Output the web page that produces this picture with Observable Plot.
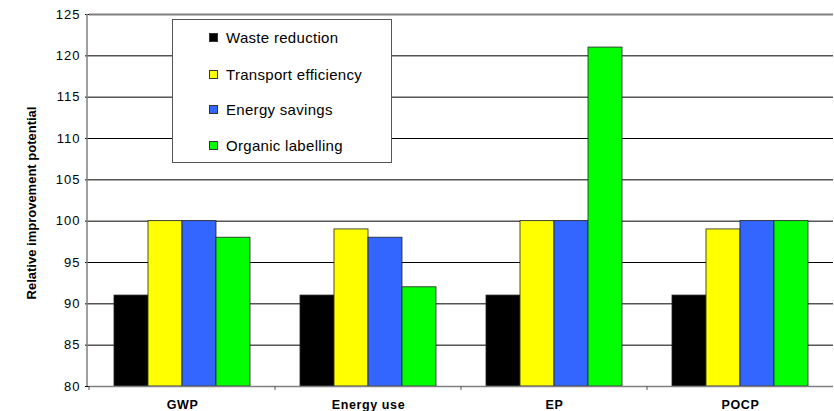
<!DOCTYPE html>
<html>
<head>
<meta charset="utf-8">
<script src="https://cdn.jsdelivr.net/npm/d3@7"></script>
<script src="https://cdn.jsdelivr.net/npm/@observablehq/plot@0.6"></script>
<style>
  html, body { margin: 0; padding: 0; background: #fff; }
  #wrap { position: relative; width: 834px; height: 411px; font-family: Arial, "Liberation Sans", sans-serif; }
  #legend { position: absolute; left: 172px; top: 19px; width: 220px; height: 144px; border: 1px solid #555; background: #fff; box-sizing: border-box; }
  .item { position: absolute; left: 36px; display: flex; align-items: center; font-size: 15px; letter-spacing: 0.3px; color: #000; white-space: nowrap; }
  .sw { width: 7px; height: 7px; border: 1px solid #333; margin-right: 8px; flex: none; }
</style>
</head>
<body>
<div id="wrap"><div id="chart"></div><div id="legend"></div></div>
<script>
const categories = ["GWP", "Energy use", "EP", "POCP"];
const series = ["Waste reduction", "Transport efficiency", "Energy savings", "Organic labelling"];
const wasteReduction = [91, 91, 91, 91];
const transportEfficiency = [100, 99, 100, 99];
const energySavings = [100, 98, 100, 100];
const organicLabelling = [98, 92, 121, 100];
const seriesColors = ["#000000", "#ffff00", "#3366ff", "#00ff00"];
const yDomain = [80, 125];
const yTicks = [80, 85, 90, 95, 100, 105, 110, 115, 120, 125];
const gridTicks = [85, 90, 95, 100, 105, 110, 115, 120];
const yLabel = "Relative improvement potential";

const seriesValues = [wasteReduction, transportEfficiency, energySavings, organicLabelling];
const data = [];
categories.forEach((c, i) => series.forEach((s, j) => data.push({category: c, series: s, value: seriesValues[j][i]})));

const plot = Plot.plot({
  width: 834,
  height: 411,
  marginLeft: 87,
  marginRight: 0,
  marginTop: 14,
  marginBottom: 25,
  style: {fontFamily: 'Arial, "Liberation Sans", sans-serif', background: "white", color: "black"},
  fx: {domain: categories, padding: 0, label: null},
  x: {domain: series, paddingInner: 0, paddingOuter: 0.7, axis: null},
  y: {domain: yDomain, label: null},
  color: {domain: series, range: seriesColors},
  marks: [
    Plot.ruleY(gridTicks, {stroke: "#000", strokeWidth: 1}),
    Plot.ruleY([yDomain[1]], {stroke: "#808080", strokeWidth: 2}),
    Plot.barY(data, {fx: "category", x: "series", y1: yDomain[0], y2: "value", fill: "series", stroke: "#222", strokeWidth: 0.8}),
    Plot.ruleY([yDomain[0]], {stroke: "#808080", strokeWidth: 1.5}),
    Plot.axisY({ticks: yTicks, tickSize: 4, tickPadding: 5, fontSize: 13, label: null}),
    Plot.axisFx({anchor: "bottom", tickSize: 0, tickPadding: 14, fontSize: 12.5, fontWeight: "bold", label: null})
  ]
});
document.getElementById("chart").appendChild(plot);

// extra decorations using the plot's own scales
const svg = d3.select(plot);
svg.selectAll('[aria-label="y-axis tick label"] text').attr("letter-spacing", "1px");
svg.selectAll('[aria-label="fx-axis tick label"] text').attr("letter-spacing", "0.6px");
const fx = plot.scale("fx");
const y = plot.scale("y");
const x0 = 87;
svg.append("line")
  .attr("x1", x0).attr("x2", x0)
  .attr("y1", y.apply(yDomain[1])).attr("y2", y.apply(yDomain[0]))
  .attr("stroke", "#808080").attr("stroke-width", 1.5);
categories.forEach(c => {
  const xx = fx.apply(c);
  svg.append("line")
    .attr("x1", xx).attr("x2", xx)
    .attr("y1", y.apply(yDomain[0])).attr("y2", y.apply(yDomain[0]) + 4)
    .attr("stroke", "#555").attr("stroke-width", 1);
});
const yMid = (y.apply(yDomain[0]) + y.apply(yDomain[1])) / 2 + 3;
svg.append("text")
  .attr("transform", `translate(33,${yMid}) rotate(-90)`)
  .attr("text-anchor", "middle")
  .attr("dominant-baseline", "middle")
  .attr("font-size", 13)
  .attr("font-weight", "bold")
  .attr("fill", "#000")
  .text(yLabel);

// legend
const legend = document.getElementById("legend");
const rowTops = [18, 55, 90, 126];
series.forEach((s, i) => {
  const item = document.createElement("div");
  item.className = "item";
  item.style.top = (rowTops[i] - 9) + "px";
  const sw = document.createElement("span");
  sw.className = "sw";
  sw.style.background = seriesColors[i];
  const t = document.createElement("span");
  t.textContent = s;
  item.appendChild(sw);
  item.appendChild(t);
  legend.appendChild(item);
});
</script>
</body>
</html>
